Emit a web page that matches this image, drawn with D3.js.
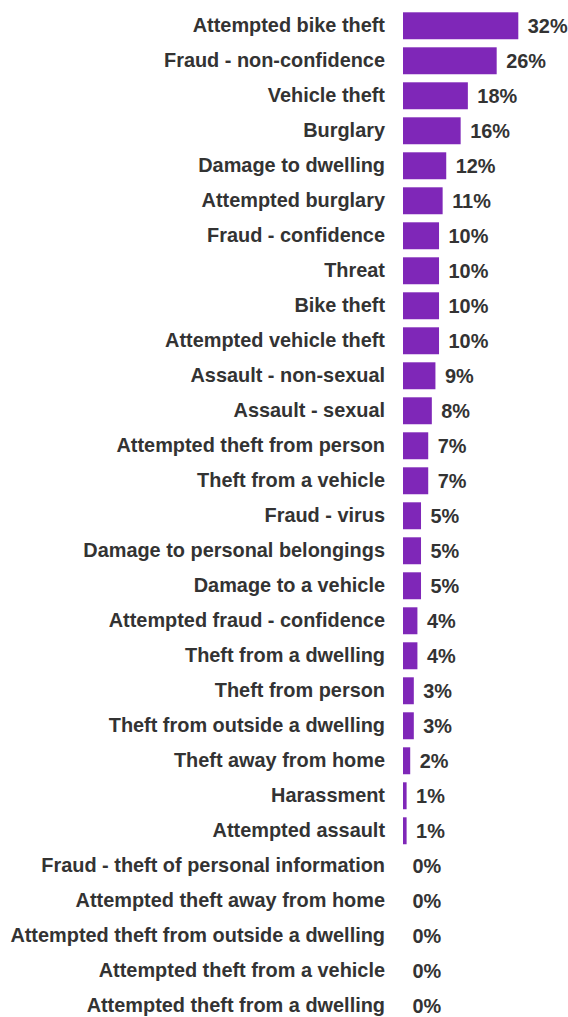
<!DOCTYPE html>
<html>
<head>
<meta charset="utf-8">
<script src="https://cdn.jsdelivr.net/npm/d3@7"></script>
<style>
  html, body { margin: 0; padding: 0; background: #fff; }
  svg { display: block; }
</style>
</head>
<body>
<svg id="chart"></svg>
<script>
(function() {

    // Categories, top to bottom.
    const categories = [
        'Attempted bike theft',
        'Fraud - non-confidence',
        'Vehicle theft',
        'Burglary',
        'Damage to dwelling',
        'Attempted burglary',
        'Fraud - confidence',
        'Threat',
        'Bike theft',
        'Attempted vehicle theft',
        'Assault - non-sexual',
        'Assault - sexual',
        'Attempted theft from person',
        'Theft from a vehicle',
        'Fraud - virus',
        'Damage to personal belongings',
        'Damage to a vehicle',
        'Attempted fraud - confidence',
        'Theft from a dwelling',
        'Theft from person',
        'Theft from outside a dwelling',
        'Theft away from home',
        'Harassment',
        'Attempted assault',
        'Fraud - theft of personal information',
        'Attempted theft away from home',
        'Attempted theft from outside a dwelling',
        'Attempted theft from a vehicle',
        'Attempted theft from a dwelling'
    ];

    // Percentages.
    const values = [32, 26, 18, 16, 12, 11, 10, 10, 10, 10, 9, 8, 7, 7, 5, 5, 5, 4, 4, 3, 3, 2, 1, 1, 0, 0, 0, 0, 0];

    const data = categories.map((c, i) => ({ name: c, value: values[i] }));

    const w = 568;
    const h = 1017;
    const step = 35;
    const top = 12.3 - 0.115 * step;
    const barLeft = 403;
    const fontSize = '19.9px';

    const svg = d3.select('#chart')
        .attr('width', w)
        .attr('height', h);

    // Scale X
    const scaleX = d3.scaleLinear()
        .domain([0, 32])
        .range([barLeft, barLeft + 115.3]);

    // Scale Y
    const scaleY = d3.scaleBand()
        .domain(categories)
        .range([top, top + categories.length * step])
        .paddingInner(0.23)
        .paddingOuter(0.115);

    // Bars
    svg.append('g')
        .selectAll('rect')
        .data(data)
        .join('rect')
        .attr('x', scaleX(0))
        .attr('y', d => scaleY(d.name))
        .attr('width', d => scaleX(d.value) - scaleX(0))
        .attr('height', scaleY.bandwidth())
        .attr('fill', '#7f27b8');

    // Category labels
    const yAxis = d3.axisLeft(scaleY).tickSize(0).tickPadding(0);
    const gy = svg.append('g')
        .attr('transform', 'translate(385, 0)')
        .call(yAxis);
    gy.select('.domain').remove();
    gy.selectAll('text')
        .attr('fill', '#333')
        .style('font-family', '"Liberation Sans", Arial, sans-serif')
        .style('font-size', fontSize)
        .style('font-weight', 'bold');

    // Value labels
    svg.append('g')
        .selectAll('text')
        .data(data)
        .join('text')
        .attr('x', d => scaleX(d.value) + 9.5)
        .attr('y', d => scaleY(d.name) + scaleY.bandwidth() / 2)
        .attr('dy', '0.35em')
        .attr('fill', '#333')
        .style('font-family', '"Liberation Sans", Arial, sans-serif')
        .style('font-size', fontSize)
        .style('font-weight', 'bold')
        .text(d => d.value + '%');

})();
</script>
</body>
</html>
